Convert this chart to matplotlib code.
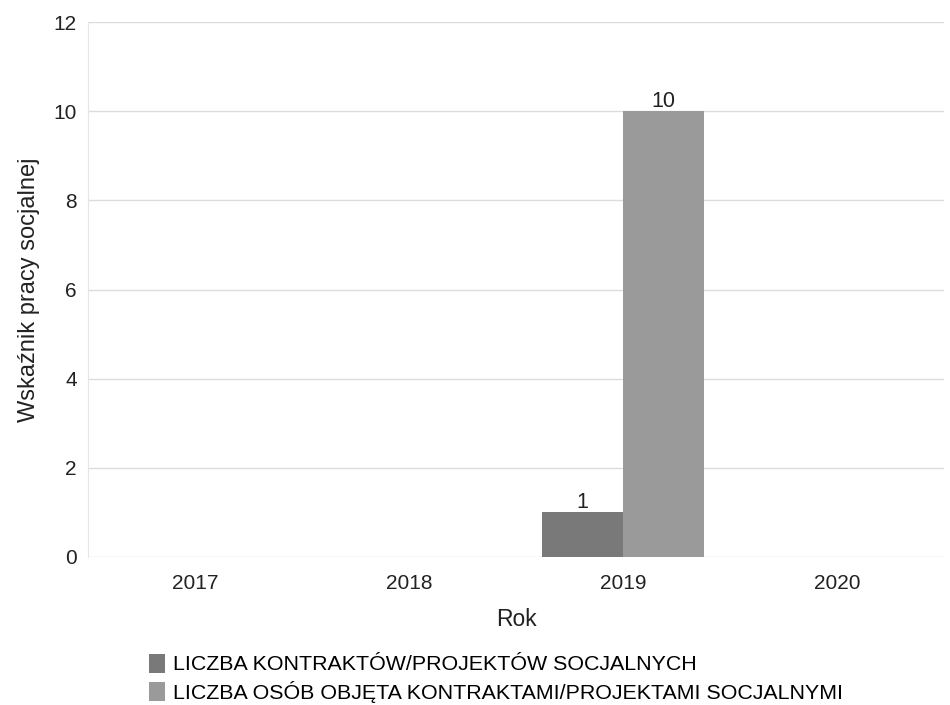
import matplotlib
matplotlib.use("Agg")
import matplotlib.pyplot as plt
import numpy as np

plt.rcParams['font.family'] = ['Liberation Sans', 'DejaVu Sans']

years = ['2017', '2018', '2019', '2020']
kontrakty = [0, 0, 1, 0]
osoby = [0, 0, 10, 0]
series_names = ['LICZBA KONTRAKTÓW/PROJEKTÓW SOCJALNYCH',
                'LICZBA OSÓB OBJĘTA KONTRAKTAMI/PROJEKTAMI SOCJALNYMI']
colors = ['#797979', '#9a9a9a']

fig = plt.figure(figsize=(9.5, 7.05), dpi=100)
ax = fig.add_axes([88/950, 1-557/705, 856/950, (557-22)/705])

x = np.arange(len(years))
w = 0.38
b1 = ax.bar(x - w/2, kontrakty, w, color=colors[0], label=series_names[0])
b2 = ax.bar(x + w/2, osoby, w, color=colors[1], label=series_names[1])

for bars, vals in ((b1, kontrakty), (b2, osoby)):
    for r, v in zip(bars, vals):
        if v > 0:
            ax.text(r.get_x() + r.get_width()/2, v - 0.02, str(v), ha='center', va='bottom',
                    fontsize=15.5, color='#222222')

ax.set_xlim(-0.5, 3.5)
ax.set_ylim(0, 12)
ax.set_yticks(range(0, 13, 2))
ax.set_xticks(x)
ax.set_xticklabels(years)
ax.tick_params(axis='both', length=0, labelsize=15, colors='#222222')
ax.tick_params(axis='x', pad=12)
ax.tick_params(axis='y', pad=8)
ax.yaxis.grid(True, color='#dcdcdc', linewidth=1)
ax.set_axisbelow(True)
for s in ['top', 'right', 'bottom']:
    ax.spines[s].set_visible(False)
ax.spines['left'].set_color('#e6e6e6')
ax.set_xlabel('Rok', fontsize=16.5, color='#222222', labelpad=11)
ax.set_ylabel('Wskaźnik pracy socjalnej', fontsize=17, color='#222222', labelpad=10)

fig.legend(handles=[b1, b2], loc='upper left', bbox_to_anchor=(140/950, 1-645/705),
           frameon=False, fontsize=15.4, handlelength=0.75, handleheight=1.0,
           handletextpad=0.4, labelspacing=0.3, borderaxespad=0)

fig.savefig('out.png', dpi=100)
